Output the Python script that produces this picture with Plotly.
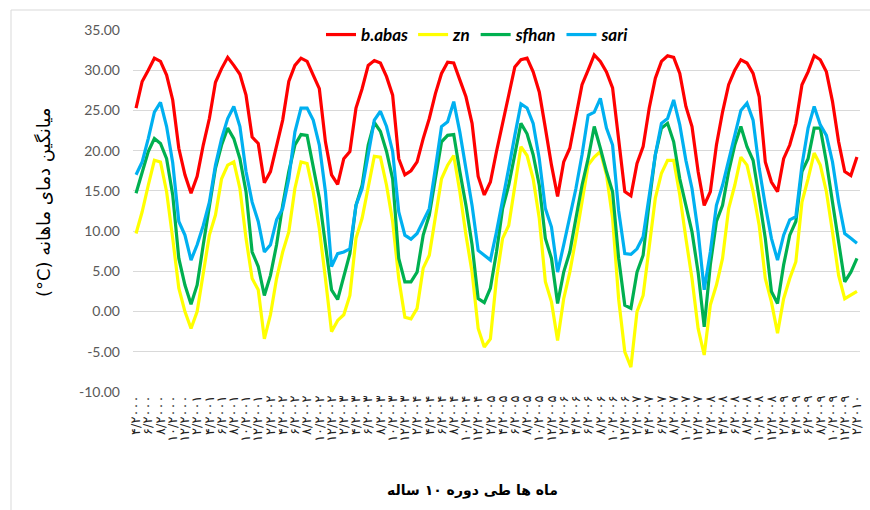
import plotly.graph_objects as go

# ---- data ----
start_month = 4
start_year = 2000
n_points = 119

b_abas = [25.3, 28.6, 30.0, 31.5, 31.1, 29.4, 26.3, 20.3, 17.0, 14.7, 16.8, 20.7,
          24.0, 28.5, 30.2, 31.6, 30.6, 29.5, 26.9, 21.7, 20.9, 16.0, 17.4, 20.7,
          23.8, 28.6, 30.6, 31.5, 31.1, 29.4, 27.7, 21.1, 17.0, 15.8, 19.0, 19.9,
          25.3, 27.7, 30.6, 31.2, 30.9, 29.2, 26.9, 19.0, 17.0, 17.5, 18.6, 21.5,
          24.0, 27.1, 29.6, 31.0, 30.9, 28.8, 26.7, 23.4, 16.8, 14.5, 16.1, 19.9,
          23.4, 26.5, 30.4, 31.3, 31.5, 29.8, 27.3, 22.8, 18.2, 14.3, 18.6, 20.3,
          24.2, 28.2, 30.0, 31.9, 31.1, 29.8, 27.8, 21.5, 14.9, 14.4, 18.4, 20.5,
          25.3, 29.0, 31.1, 31.8, 31.6, 29.6, 25.5, 23.0, 17.4, 13.2, 14.9, 20.7,
          24.8, 28.2, 30.0, 31.3, 30.9, 29.6, 26.7, 18.6, 16.1, 14.9, 19.0, 20.7,
          23.4, 28.2, 29.8, 31.8, 31.3, 29.8, 26.1, 21.1, 17.4, 16.9, 19.2]

zn = [9.7, 12.4, 15.7, 18.8, 18.6, 14.9, 9.1, 2.9, 0.0, -2.1, 0.0, 4.9,
      9.5, 12.0, 16.5, 18.2, 18.6, 15.3, 9.1, 4.1, 2.7, -3.4, -0.4, 4.1,
      7.4, 9.9, 15.3, 18.6, 18.4, 14.9, 10.3, 4.1, -2.5, -1.1, -0.4, 2.0,
      9.1, 11.6, 15.3, 19.3, 19.2, 15.7, 11.2, 4.1, -0.7, -0.9, 0.4, 5.4,
      7.0, 12.0, 16.5, 18.2, 19.4, 14.9, 9.5, 4.9, -2.1, -4.4, -3.4, 4.1,
      9.1, 10.7, 15.7, 20.5, 19.4, 16.5, 11.6, 3.7, 1.2, -3.6, 1.6, 4.9,
      9.1, 13.6, 18.2, 19.2, 19.9, 17.0, 11.6, 1.5, -5.0, -6.9, 0.0, 2.0,
      8.3, 14.1, 17.2, 18.8, 18.8, 14.5, 9.1, 4.1, -2.1, -5.4, 0.8, 3.3,
      6.6, 12.8, 15.7, 19.2, 18.2, 14.9, 10.7, 4.1, 1.2, -2.7, 1.6, 4.1,
      6.2, 13.6, 16.5, 19.7, 18.2, 14.9, 9.9, 4.5, 1.6, 2.0, 2.5]

sfhan = [14.7, 17.4, 19.9, 21.5, 20.9, 19.0, 14.5, 6.6, 3.3, 0.9, 3.3, 8.3,
         13.2, 17.8, 20.7, 22.8, 21.5, 19.0, 14.9, 7.4, 5.6, 2.0, 4.5, 8.3,
         13.2, 17.4, 20.7, 22.0, 21.9, 17.8, 14.1, 8.3, 2.7, 1.5, 4.3, 7.2,
         13.2, 15.7, 20.7, 23.5, 22.4, 19.9, 16.5, 6.6, 3.7, 3.7, 4.9, 9.5,
         12.0, 16.5, 21.1, 21.9, 22.0, 17.4, 13.2, 8.3, 1.6, 1.1, 2.9, 7.4,
         12.8, 15.7, 19.5, 23.4, 22.1, 19.5, 15.7, 9.1, 6.6, 1.0, 4.9, 7.4,
         11.6, 15.7, 19.0, 23.0, 20.3, 17.4, 14.9, 6.6, 0.8, 0.4, 4.9, 7.0,
         13.6, 19.5, 22.8, 23.4, 21.1, 16.5, 13.2, 9.9, 4.9, -1.9, 5.8, 11.2,
         13.2, 17.4, 20.7, 23.0, 20.5, 18.8, 14.1, 9.1, 2.5, 1.0, 5.8, 9.5,
         11.2, 17.4, 19.0, 22.8, 22.8, 18.6, 13.6, 8.7, 3.7, 4.9, 6.6]

sari = [17.0, 18.6, 21.5, 24.8, 26.0, 23.0, 18.5, 11.2, 9.5, 6.4, 8.3, 10.7,
        13.6, 18.2, 21.5, 24.0, 25.5, 23.0, 17.4, 13.6, 11.2, 7.4, 8.3, 11.4,
        12.8, 16.5, 22.3, 25.3, 25.3, 23.8, 20.7, 14.9, 5.6, 7.2, 7.4, 7.8,
        13.2, 15.3, 19.5, 23.8, 24.9, 23.0, 19.9, 12.4, 9.5, 9.0, 9.7, 11.2,
        12.8, 17.8, 23.0, 23.6, 26.1, 22.3, 17.8, 13.2, 7.6, 7.0, 6.4, 9.9,
        14.1, 17.8, 21.9, 25.8, 25.3, 23.4, 19.0, 12.8, 10.5, 4.9, 8.3, 11.6,
        15.3, 19.5, 24.4, 24.8, 26.5, 22.8, 20.7, 12.5, 7.2, 7.1, 7.8, 9.3,
        14.5, 19.5, 23.4, 24.0, 26.3, 23.2, 18.8, 15.3, 9.9, 2.7, 7.4, 13.2,
        15.7, 19.0, 21.9, 25.0, 25.9, 23.8, 17.8, 13.2, 9.1, 6.4, 9.5, 11.4,
        11.8, 18.2, 22.8, 25.5, 23.2, 21.9, 18.6, 13.6, 9.7, 9.1, 8.5]

series_names = ["b.abas", "zn", "sfhan", "sari"]
series_colors = ["#FF0000", "#FFFF00", "#00B050", "#00B0F0"]

y_tick_values = [-10, -5, 0, 5, 10, 15, 20, 25, 30, 35]
y_tick_labels = ["-10.00", "-5.00", "0.00", "5.00", "10.00", "15.00",
                 "20.00", "25.00", "30.00", "35.00"]

y_title = "\u202bمیانگین دمای ماهانه (C°)\u202c"
x_title = "ماه ها طی دوره ۱۰ ساله"

# category labels  M/YYYY in Persian digits
to_fa = str.maketrans("0123456789", "۰۱۲۳۴۵۶۷۸۹")
month_labels = []
m, yr = start_month, start_year
for _ in range(n_points):
    month_labels.append(f"{m}/{yr}".translate(to_fa))
    m += 1
    if m > 12:
        m = 1
        yr += 1

# ---- figure ----
fig = go.Figure()
for name, color, vals in zip(series_names, series_colors, [b_abas, zn, sfhan, sari]):
    fig.add_trace(go.Scatter(x=month_labels, y=vals, mode="lines", name=name,
                             line=dict(color=color, width=3.2)))

W, H = 870, 510
L, R, T, B = 133, 10, 30, 118
pw, ph = W - L - R, H - T - B

def px_x(x):
    return (x - L) / pw

def px_y(y):
    return (H - B - y) / ph

fig.update_layout(
    width=W, height=H,
    margin=dict(l=L, r=R, t=T, b=B, autoexpand=False),
    paper_bgcolor="white", plot_bgcolor="white",
    showlegend=True,
    legend=dict(orientation="h", x=px_x(478), xanchor="center",
                y=px_y(35), yanchor="middle",
                bgcolor="rgba(0,0,0,0)",
                font=dict(family="Lato", size=17, color="#000000",
                          weight="bold", style="italic"),
                itemwidth=30, tracegroupgap=0),
    xaxis=dict(type="category", range=[-0.5, n_points - 0.5],
               tickmode="array", tickvals=month_labels[::2], ticktext=month_labels[::2],
               tickangle=-90, tickfont=dict(family="DejaVu Sans", size=13, color="#222222"),
               showgrid=False, showline=False, zeroline=False, ticks="",
               automargin=False),
    yaxis=dict(range=[-10, 35], tickmode="array", tickvals=y_tick_values,
               ticktext=y_tick_labels,
               tickfont=dict(family="Lato", size=14, color="#595959"),
               showgrid=True, gridcolor="#D9D9D9", gridwidth=1,
               zeroline=False, showline=False, ticks="", ticklabelstandoff=12,
               automargin=False),
    shapes=[dict(type="rect", xref="paper", yref="paper",
                 x0=px_x(11), x1=px_x(880), y0=px_y(520), y1=px_y(10),
                 line=dict(color="#D9D9D9", width=1), fillcolor="rgba(0,0,0,0)",
                 layer="below")],
    annotations=[
        dict(text=y_title, xref="paper", yref="paper", x=px_x(44), y=px_y(203),
             textangle=-90, showarrow=False, xanchor="center", yanchor="middle",
             font=dict(family="DejaVu Sans", size=18, color="#000000")),
        dict(text=x_title, xref="paper", yref="paper", x=px_x(472), y=px_y(490),
             showarrow=False, xanchor="center", yanchor="middle",
             font=dict(family="DejaVu Sans", size=14, color="#000000", weight="bold")),
    ],
)

fig.write_html("out.html", config={"displayModeBar": False},
               post_script="document.body.style.margin='0';document.body.style.overflow='hidden';")
